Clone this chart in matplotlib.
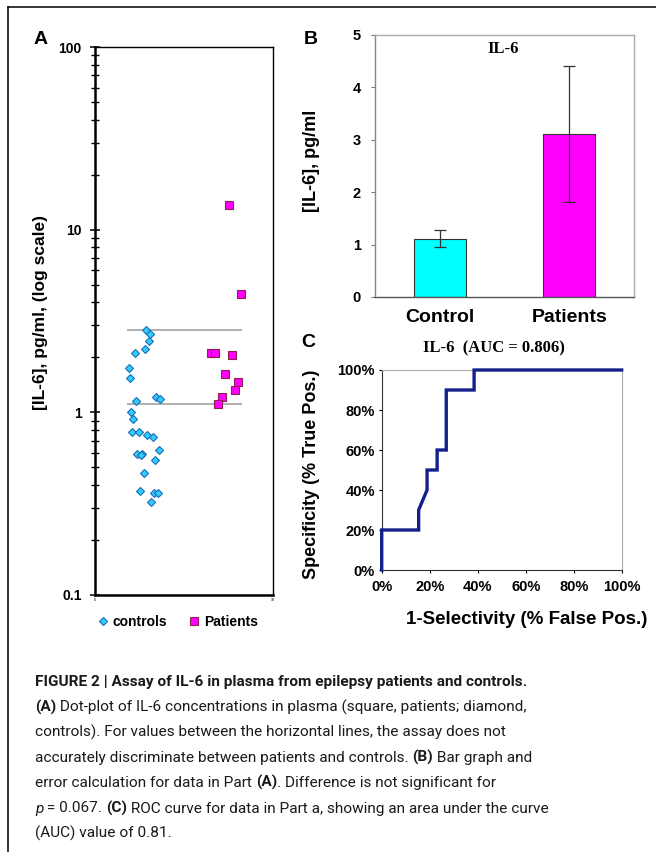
import matplotlib
matplotlib.use('Agg')
import matplotlib.pyplot as plt
from matplotlib.lines import Line2D
import numpy as np

W, H = 656, 852

# ---------------- Panel A: dot plot (log scale) ----------------
control_x = [2.88, 3.11, 3.01, 2.82, 2.22, 1.90, 1.98, 3.45, 3.67, 2.32, 2.02, 2.16, 2.09,
             2.45, 2.94, 3.24, 3.58, 2.37, 2.66, 2.58, 3.39, 2.73, 2.54, 3.29, 3.52, 3.16]
control_il6 = [2.81, 2.70, 2.47, 2.23, 2.11, 1.75, 1.55, 1.22, 1.18, 1.15, 1.00, 0.92, 0.785,
               0.785, 0.756, 0.734, 0.625, 0.595, 0.595, 0.582, 0.547, 0.468, 0.371, 0.361, 0.361, 0.324]
patient_x = [7.50, 8.21, 6.54, 6.76, 7.68, 7.31, 8.06, 7.85, 7.14, 6.93]
patient_il6 = [13.7, 4.46, 2.11, 2.11, 2.05, 1.62, 1.47, 1.33, 1.22, 1.11]
cutoff_levels = [2.81, 1.11]
cutoff_span = [1.82, 8.25]
a_yticks = [0.1, 1, 10, 100]
a_yticklabels = ['0.1', '1', '10', '100']
a_xticks = [0, 10]
a_xticklabels = ['0', '10']

# ---------------- Panel B: bar graph ----------------
groups = ['Control', 'Patients']
mean_il6 = [1.11, 3.11]
err_il6 = [0.16, 1.29]
bar_colors = ['#00FFFF', '#FF00FF']
b_yticks = [0, 1, 2, 3, 4, 5]

# ---------------- Panel C: ROC curve ----------------
fpr = [0, 0, 15.4, 15.4, 18.9, 18.9, 23.1, 23.1, 26.9, 26.9, 38.5, 38.5, 100]
tpr = [0, 20, 20, 30, 40, 50, 50, 60, 60, 90, 90, 100, 100]
c_ticks = [0, 20, 40, 60, 80, 100]
c_ticklabels = ['0%', '20%', '40%', '60%', '80%', '100%']

SANS = ['Liberation Sans', 'DejaVu Sans']
SERIF = ['Liberation Serif', 'DejaVu Serif']
CAPFONT = ['Roboto', 'Liberation Sans', 'DejaVu Sans']

plt.rcParams['font.family'] = SANS

fig = plt.figure(figsize=(W / 100, H / 100), dpi=100)


def axrect(l, t, r, b):
    return [l / W, 1 - b / H, (r - l) / W, (b - t) / H]


# ---- Panel A ----
axA = fig.add_axes(axrect(95, 47, 273, 595))
axA.set_yscale('log')
axA.set_ylim(0.1, 100)
axA.set_xlim(0, 10)
axA.hlines(cutoff_levels, cutoff_span[0], cutoff_span[1], colors='#9a9a9a', lw=1.1, zorder=1)
axA.plot(control_x, control_il6, ls='none', marker='D', ms=3.9, mfc='#33CCFF', mec='#1B6DB3',
         mew=0.8, zorder=3)
axA.plot(patient_x, patient_il6, ls='none', marker='s', ms=5.4, mfc='#FF00FF', mec='#8B1F4F',
         mew=0.8, zorder=3)
axA.set_yticks(a_yticks)
axA.set_yticklabels(a_yticklabels)
axA.yaxis.set_minor_formatter(matplotlib.ticker.NullFormatter())
axA.tick_params(axis='y', which='major', direction='inout', length=7, width=1.1, pad=6,
                labelsize=10)
axA.tick_params(axis='y', which='minor', direction='inout', length=6, width=1.0)
for lab in axA.get_yticklabels():
    lab.set_fontweight('bold')
axA.set_xticks(a_xticks)
axA.set_xticklabels(a_xticklabels)
axA.tick_params(axis='x', length=0, pad=2, labelsize=2.5)
for s in ['left', 'bottom']:
    axA.spines[s].set_linewidth(1.8)
for s in ['top', 'right']:
    axA.spines[s].set_linewidth(1.0)
axA.set_ylabel('[IL-6], pg/ml, (log scale)', fontsize=12.5, fontweight='bold')
axA.yaxis.set_label_coords((40 - 95) / 178, (595 - 312) / 548)
axA.yaxis.label.set_verticalalignment('center')
handles = [
    Line2D([], [], ls='none', marker='D', ms=3.6, mfc='#33CCFF', mec='#1B6DB3', mew=0.8,
           label='controls'),
    Line2D([], [], ls='none', marker='s', ms=6, mfc='#FF00FF', mec='#8B1F4F', mew=0.8,
           label='Patients'),
]
axA.legend(handles=handles, loc='center', bbox_to_anchor=((178 - 95) / 178, (595 - 622) / 548),
           ncol=2, frameon=False, prop=dict(family=SANS, weight='bold', size=10),
           handlelength=0.7, handletextpad=0.35, columnspacing=1.6, borderpad=0)

# ---- Panel B ----
axB = fig.add_axes(axrect(375, 35, 634, 297))
xb = np.arange(len(groups))
axB.bar(xb, mean_il6, width=0.4, color=bar_colors, edgecolor='#333333', lw=0.8,
        yerr=err_il6, capsize=4,
        error_kw=dict(ecolor='#333333', elinewidth=0.9, capthick=0.9))
axB.set_xlim(-0.5, 1.5)
axB.set_ylim(0, 5)
axB.set_yticks(b_yticks)
axB.set_xticks(xb)
axB.set_xticklabels(groups)
axB.tick_params(axis='x', length=0, pad=9, labelsize=14)
axB.tick_params(axis='y', length=3, width=0.8, color='#777777', pad=7, labelsize=10.5)
for lab in axB.get_xticklabels() + axB.get_yticklabels():
    lab.set_fontweight('bold')
axB.spines['left'].set_color('#888888')
axB.spines['bottom'].set_color('#555555')
axB.spines['top'].set_color('#aaaaaa')
axB.spines['right'].set_color('#aaaaaa')
for s in axB.spines.values():
    s.set_linewidth(1.0)
axB.set_title('IL-6', family=SERIF, fontweight='bold', fontsize=12, y=(297 - 53) / 262, pad=0)
axB.title.set_x((503 - 375) / 259)
axB.set_ylabel('[IL-6], pg/ml', fontsize=13, fontweight='bold')
axB.yaxis.set_label_coords((311.5 - 375) / 259, (297 - 160.5) / 262)
axB.yaxis.label.set_verticalalignment('center')

# ---- Panel C ----
axC = fig.add_axes(axrect(381.7, 370, 621.7, 570))
axC.plot(fpr, tpr, color='#13208C', lw=2.4, solid_joinstyle='miter', clip_on=False, zorder=3)
axC.set_xlim(0, 100)
axC.set_ylim(0, 100)
axC.set_xticks(c_ticks)
axC.set_xticklabels(c_ticklabels)
axC.set_yticks(c_ticks)
axC.set_yticklabels(c_ticklabels)
axC.tick_params(axis='both', length=2, width=0.8, labelsize=10.5)
axC.tick_params(axis='y', pad=3)
axC.tick_params(axis='x', pad=5)
for lab in axC.get_xticklabels() + axC.get_yticklabels():
    lab.set_fontweight('bold')
axC.spines['left'].set_color('#333333')
axC.spines['bottom'].set_color('#333333')
axC.spines['top'].set_color('#aaaaaa')
axC.spines['right'].set_color('#aaaaaa')
axC.set_title('IL-6  (AUC = 0.806)', family=SERIF, fontweight='bold', fontsize=12,
              y=(570 - 352) / 200, pad=0)
axC.title.set_x((494 - 381.7) / 240)
axC.set_ylabel('Specificity (% True Pos.)', fontsize=13, fontweight='bold')
axC.yaxis.set_label_coords((312 - 381.7) / 240, (570 - 474) / 200)
axC.yaxis.label.set_verticalalignment('center')
axC.set_xlabel('1-Selectivity (% False Pos.)', fontsize=13.5, fontweight='bold')
axC.xaxis.set_label_coords((527 - 381.7) / 240, (570 - 620) / 200)
axC.xaxis.label.set_verticalalignment('center')

# ---- Panel letters ----
for letter, (px, py) in zip(['A', 'B', 'C'], [(40.5, 39.5), (310.5, 40), (308, 342.5)]):
    fig.text(px / W, 1 - py / H, letter, ha='center', va='center', fontsize=14,
             fontweight='bold')

# ---- Frame lines ----
fig.add_artist(Line2D([8 / W, 1], [1 - 7 / H, 1 - 7 / H], transform=fig.transFigure,
                      color='black', lw=1.1))
fig.add_artist(Line2D([8 / W, 8 / W], [1 - 7 / H, 0], transform=fig.transFigure,
                      color='black', lw=1.1))

# ---- Caption ----
caption_lines = [
    [("FIGURE 2 | Assay of IL-6 in plasma from epilepsy patients and controls.", 'bold', 'normal')],
    [("(A)", 'bold', 'normal'),
     (" Dot-plot of IL-6 concentrations in plasma (square, patients; diamond,", 'normal', 'normal')],
    [("controls). For values between the horizontal lines, the assay does not", 'normal', 'normal')],
    [("accurately discriminate between patients and controls. ", 'normal', 'normal'),
     ("(B)", 'bold', 'normal'), (" Bar graph and", 'normal', 'normal')],
    [("error calculation for data in Part ", 'normal', 'normal'), ("(A)", 'bold', 'normal'),
     (". Difference is not significant for", 'normal', 'normal')],
    [("p", 'normal', 'italic'), (" = 0.067. ", 'normal', 'normal'), ("(C)", 'bold', 'normal'),
     (" ROC curve for data in Part a, showing an area under the curve", 'normal', 'normal')],
    [("(AUC) value of 0.81.", 'normal', 'normal')],
]
renderer = fig.canvas.get_renderer()


def text_width(s, weight, style, size):
    t1 = fig.text(0, 0, 'X' + s + 'X', family=CAPFONT, fontsize=size, fontweight=weight,
                  fontstyle=style)
    t2 = fig.text(0, 0, 'XX', family=CAPFONT, fontsize=size, fontweight=weight,
                  fontstyle=style)
    w = t1.get_window_extent(renderer).width - t2.get_window_extent(renderer).width
    t1.remove()
    t2.remove()
    return w


def line_width(runs, size):
    return sum(text_width(s, wt, st, size) for s, wt, st in runs)


# fit caption size to the reference line lengths (lines 1, 2 and 6)
trial = 12.0
targets = {0: 500.0, 1: 488.0, 5: 500.0}
ws = {k: line_width(caption_lines[k], trial) for k in targets}
scale = sum(targets[k] * ws[k] for k in targets) / sum(ws[k] ** 2 for k in targets)
cap_size = trial * scale

y0 = 680 + 6
for i, runs in enumerate(caption_lines):
    x = 35.0
    yb = y0 + i * 25.3
    for s, weight, style in runs:
        fig.text(x / W, 1 - yb / H, s, family=CAPFONT, fontsize=cap_size, fontweight=weight,
                 fontstyle=style, ha='left', va='baseline', color='#1a1a1a')
        x += text_width(s, weight, style, cap_size)

fig.savefig('out.png', dpi=100)
